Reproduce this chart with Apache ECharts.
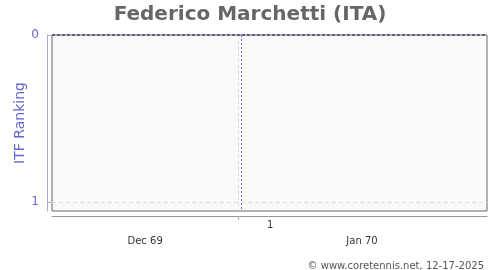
<!DOCTYPE html>
<html><head><meta charset="utf-8">
<script src="https://cdn.jsdelivr.net/npm/echarts@6/dist/echarts.min.js"></script>
<style>html,body{margin:0;padding:0;background:#fff}#c{width:500px;height:270px}</style>
</head><body><div id="c"></div>
<script>
// x values are days since Dec 1, 1969
var xMin = 0, xMax = 72.4;
var monthTicks = [31];
var monthLabelPos = [15.5, 51.6];
var monthLabels = ['Dec 69', 'Jan 70'];
var weekLabelPos = [36.3];
var weekLabels = ['1'];
var rankMarkDates = [31.5];
var yTicks = [0, 1];
var rankRefValues = [0];

var chart = echarts.init(document.getElementById('c'));
var font = 'DejaVu Sans';
function ml(items, style) {
  return {type: 'line', xAxisIndex: 0, data: [], silent: true,
    markLine: {silent: true, symbol: 'none', label: {show: false}, lineStyle: style, data: items}};
}
chart.setOption({
  animation: false,
  title: [{
    text: 'Federico Marchetti (ITA)', left: 'center', top: 0,
    textStyle: {fontFamily: font, fontSize: 20, fontWeight: 'bold', color: '#666'}
  }, {
    text: '© www.coretennis.net, 12-17-2025', right: 11, top: 256,
    textStyle: {fontFamily: font, fontSize: 10, fontWeight: 'normal', color: '#555'}
  }],
  grid: {left: 52, right: 13, top: 35, bottom: 59, show: true, containLabel: false,
    outerBoundsMode: 'none',
    backgroundColor: '#f9f9f9', borderColor: '#666', borderWidth: 1},
  xAxis: [{
    type: 'value', min: xMin, max: xMax, position: 'bottom', offset: 5,
    axisLine: {show: true, onZero: false, lineStyle: {color: '#999'}},
    axisTick: {show: true, customValues: monthTicks, length: 4, inside: false, lineStyle: {color: '#aaa'}},
    axisLabel: {show: false},
    splitLine: {show: false}
  }, {
    type: 'value', min: xMin, max: xMax, position: 'bottom', offset: 5,
    axisLine: {show: false, onZero: false}, axisTick: {show: false}, splitLine: {show: false},
    axisLabel: {show: true, customValues: weekLabelPos, margin: 4,
      formatter: function (v) { return weekLabels[weekLabelPos.indexOf(v)]; },
      fontFamily: font, fontSize: 10, color: '#333'}
  }, {
    type: 'value', min: xMin, max: xMax, position: 'bottom', offset: 5,
    axisLine: {show: false, onZero: false}, axisTick: {show: false}, splitLine: {show: false},
    axisLabel: {show: true, customValues: monthLabelPos, margin: 20,
      formatter: function (v) { return monthLabels[monthLabelPos.indexOf(v)]; },
      fontFamily: font, fontSize: 10, color: '#333'}
  }],
  yAxis: {
    type: 'value', inverse: true, min: 0, max: 1.054, interval: 1,
    offset: 5,
    name: 'ITF Ranking', nameLocation: 'middle', nameGap: 20, nameMoveOverlap: false,
    nameTextStyle: {fontFamily: font, fontSize: 14, color: '#6666cc'},
    axisLine: {show: true, onZero: false, lineStyle: {color: '#aaaadd'}},
    axisTick: {show: true, customValues: yTicks, length: 4, inside: true, lineStyle: {color: '#aaaadd'}},
    axisLabel: {customValues: yTicks, fontFamily: font, fontSize: 12, color: '#6666cc', margin: 8},
    splitLine: {show: false}
  },
  series: [
    ml(monthTicks.map(function (d) { return {xAxis: d}; }), {color: '#d4d4d4', type: [3, 3], width: 1}),
    ml(yTicks.slice(1).map(function (v) { return {yAxis: v}; }), {color: '#dddddd', type: [4, 3], width: 1}),
    ml(rankMarkDates.map(function (d) { return {xAxis: d}; }), {color: '#6a6aff', type: [2, 2], width: 1}),
    ml(rankRefValues.map(function (v) { return {yAxis: v}; }), {color: '#444488', type: [3, 2], width: 1.5})
  ]
});
</script></body></html>
